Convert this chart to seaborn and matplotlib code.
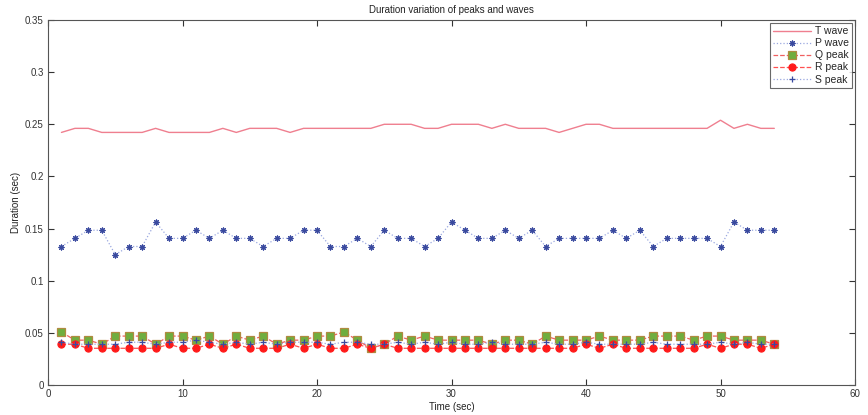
import numpy as np
import pandas as pd
import matplotlib
matplotlib.use("Agg")
import matplotlib.pyplot as plt
import seaborn as sns

time_sec = list(range(1, 55))

t_wave = [0.2422, 0.2461, 0.2461, 0.2422, 0.2422, 0.2422, 0.2422, 0.2461, 0.2422, 0.2422,
          0.2422, 0.2422, 0.2461, 0.2422, 0.2461, 0.2461, 0.2461, 0.2422, 0.2461, 0.2461,
          0.2461, 0.2461, 0.2461, 0.2461, 0.2500, 0.2500, 0.2500, 0.2461, 0.2461, 0.2500,
          0.2500, 0.2500, 0.2461, 0.2500, 0.2461, 0.2461, 0.2461, 0.2422, 0.2461, 0.2500,
          0.2500, 0.2461, 0.2461, 0.2461, 0.2461, 0.2461, 0.2461, 0.2461, 0.2461, 0.2539,
          0.2461, 0.2500, 0.2461, 0.2461]

p_wave = [0.1328, 0.1406, 0.1484, 0.1484, 0.1250, 0.1328, 0.1328, 0.1563, 0.1406, 0.1406,
          0.1484, 0.1406, 0.1484, 0.1406, 0.1406, 0.1328, 0.1406, 0.1406, 0.1484, 0.1484,
          0.1328, 0.1328, 0.1406, 0.1328, 0.1484, 0.1406, 0.1406, 0.1328, 0.1406, 0.1563,
          0.1484, 0.1406, 0.1406, 0.1484, 0.1406, 0.1484, 0.1328, 0.1406, 0.1406, 0.1406,
          0.1406, 0.1484, 0.1406, 0.1484, 0.1328, 0.1406, 0.1406, 0.1406, 0.1406, 0.1328,
          0.1563, 0.1484, 0.1484, 0.1484]

q_peak = [0.0508, 0.0430, 0.0430, 0.0391, 0.0469, 0.0469, 0.0469, 0.0391, 0.0469, 0.0469,
          0.0430, 0.0469, 0.0391, 0.0469, 0.0430, 0.0469, 0.0391, 0.0430, 0.0430, 0.0469,
          0.0469, 0.0508, 0.0430, 0.0352, 0.0391, 0.0469, 0.0430, 0.0469, 0.0430, 0.0430,
          0.0430, 0.0430, 0.0391, 0.0430, 0.0430, 0.0391, 0.0469, 0.0430, 0.0430, 0.0430,
          0.0469, 0.0430, 0.0430, 0.0430, 0.0469, 0.0469, 0.0469, 0.0430, 0.0469, 0.0469,
          0.0430, 0.0430, 0.0430, 0.0391]

r_peak = [0.0391, 0.0391, 0.0352, 0.0352, 0.0352, 0.0352, 0.0352, 0.0352, 0.0391, 0.0352,
          0.0352, 0.0391, 0.0352, 0.0391, 0.0352, 0.0352, 0.0352, 0.0391, 0.0352, 0.0391,
          0.0352, 0.0352, 0.0391, 0.0352, 0.0391, 0.0352, 0.0352, 0.0352, 0.0352, 0.0352,
          0.0352, 0.0352, 0.0352, 0.0352, 0.0352, 0.0352, 0.0352, 0.0352, 0.0352, 0.0391,
          0.0352, 0.0391, 0.0352, 0.0352, 0.0352, 0.0352, 0.0352, 0.0352, 0.0391, 0.0352,
          0.0391, 0.0391, 0.0352, 0.0391]

s_peak = [0.0410, 0.0391, 0.0391, 0.0391, 0.0391, 0.0410, 0.0410, 0.0391, 0.0410, 0.0410,
          0.0430, 0.0410, 0.0391, 0.0410, 0.0391, 0.0410, 0.0391, 0.0410, 0.0410, 0.0410,
          0.0391, 0.0410, 0.0410, 0.0391, 0.0391, 0.0410, 0.0391, 0.0410, 0.0391, 0.0410,
          0.0391, 0.0391, 0.0410, 0.0391, 0.0391, 0.0391, 0.0410, 0.0391, 0.0391, 0.0410,
          0.0391, 0.0391, 0.0391, 0.0391, 0.0410, 0.0391, 0.0391, 0.0391, 0.0391, 0.0410,
          0.0391, 0.0410, 0.0391, 0.0391]

x_ticks = [0, 10, 20, 30, 40, 50, 60]
y_ticks = [0, 0.05, 0.1, 0.15, 0.2, 0.25, 0.3, 0.35]
y_tick_labels = ["0", "0.05", "0.1", "0.15", "0.2", "0.25", "0.3", "0.35"]

sns.set_style("white")
plt.rcParams['font.family'] = ['Liberation Sans', 'DejaVu Sans']

fig = plt.figure(figsize=(8.68, 4.15), dpi=100)
ax = fig.add_axes([48 / 868, 30 / 415, (855 - 48) / 868, (385 - 20) / 415])

sns.lineplot(x=time_sec, y=t_wave, ax=ax, color="#ef7f8f", linewidth=1.0,
             label="T wave")
sns.lineplot(x=time_sec, y=p_wave, ax=ax, color="#9aa8e0", linestyle=":",
             linewidth=0.9, marker=(8, 2, 0), markersize=4.2, markerfacecolor="#3a4a9f",
             markeredgecolor="#3a4a9f", markeredgewidth=0.8, label="P wave")
sns.lineplot(x=time_sec, y=q_peak, ax=ax, color="#f06060", linestyle="--",
             linewidth=0.9, marker="s", markersize=5.2, markerfacecolor="#6fae3f",
             markeredgecolor="#b08a40", markeredgewidth=0.9, label="Q peak")
sns.lineplot(x=time_sec, y=r_peak, ax=ax, color="#ff5050", linestyle="--",
             linewidth=0.9, marker="o", markersize=5.2, markerfacecolor="#ff1a1a",
             markeredgecolor="#ff1a1a", label="R peak")
sns.lineplot(x=time_sec, y=s_peak, ax=ax, color="#9aa8e0", linestyle=":",
             linewidth=0.9, marker="+", markersize=5, markeredgecolor="#3a4a9f",
             markeredgewidth=0.9, label="S peak")

ax.set_xlim(0, 60)
ax.set_ylim(0, 0.35)
ax.set_xticks(x_ticks)
ax.set_xticklabels([str(v) for v in x_ticks])
ax.set_yticks(y_ticks)
ax.set_yticklabels(y_tick_labels)
ax.tick_params(direction="in", length=4, width=0.8, labelsize=7, colors="#333333",
               top=True, right=True, bottom=True, left=True, pad=3)
for sp in ax.spines.values():
    sp.set_color("#555555")
    sp.set_linewidth(0.8)

ax.set_title("Duration variation of peaks and waves", fontsize=7, pad=5, color="#222222")
ax.set_xlabel("Time (sec)", fontsize=7, labelpad=2, color="#222222")
ax.set_ylabel("Duration (sec)", fontsize=7, labelpad=3, color="#222222")

leg = ax.legend(loc="upper right", fontsize=7.5, frameon=True, fancybox=False,
                borderpad=0.3, labelspacing=0.2, handlelength=3.6,
                handletextpad=0.4, borderaxespad=0.3)
leg.get_frame().set_edgecolor("#444444")
leg.get_frame().set_linewidth(0.8)

fig.savefig("out.png", dpi=100)
